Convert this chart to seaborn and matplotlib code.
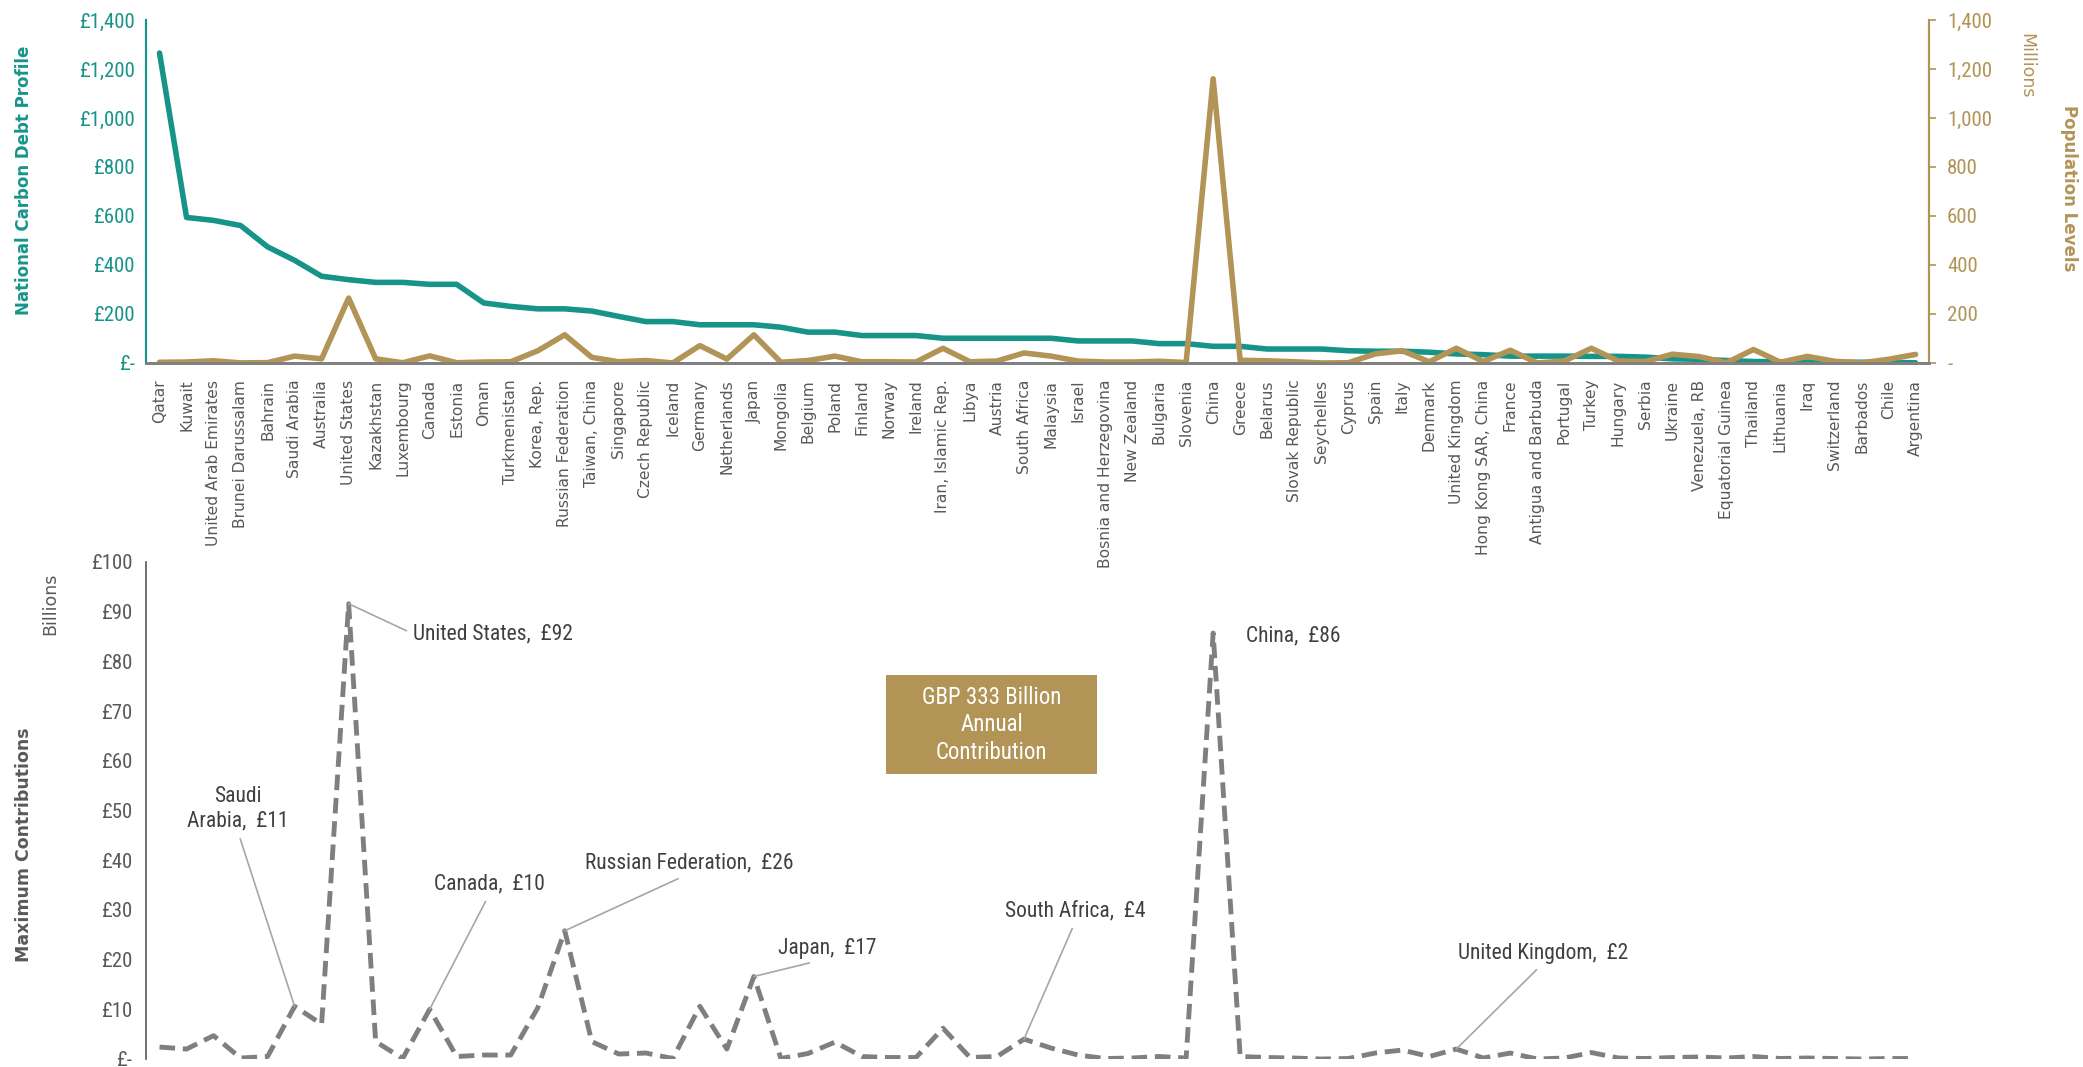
import pandas as pd
import matplotlib
matplotlib.use("Agg")
import matplotlib.pyplot as plt
from matplotlib import font_manager
from matplotlib.patches import Rectangle
import seaborn as sns

# dados
countries = [
    "Qatar", "Kuwait", "United Arab Emirates", "Brunei Darussalam", "Bahrain",
    "Saudi Arabia", "Australia", "United States", "Kazakhstan", "Luxembourg",
    "Canada", "Estonia", "Oman", "Turkmenistan", "Korea, Rep.",
    "Russian Federation", "Taiwan, China", "Singapore", "Czech Republic", "Iceland",
    "Germany", "Netherlands", "Japan", "Mongolia", "Belgium",
    "Poland", "Finland", "Norway", "Ireland", "Iran, Islamic Rep.",
    "Libya", "Austria", "South Africa", "Malaysia", "Israel",
    "Bosnia and Herzegovina", "New Zealand", "Bulgaria", "Slovenia", "China",
    "Greece", "Belarus", "Slovak Republic", "Seychelles", "Cyprus",
    "Spain", "Italy", "Denmark", "United Kingdom", "Hong Kong SAR, China",
    "France", "Antigua and Barbuda", "Portugal", "Turkey", "Hungary",
    "Serbia", "Ukraine", "Venezuela, RB", "Equatorial Guinea", "Thailand",
    "Lithuania", "Iraq", "Switzerland", "Barbados", "Chile", "Argentina",
]

carbon_debt = [
    1265, 594, 582, 561, 474, 419, 354, 340, 329, 329,
    321, 321, 245, 231, 221, 221, 212, 190, 169, 169,
    156, 156, 156, 146, 126, 126, 112, 112, 112, 101,
    101, 101, 101, 101, 90, 90, 90, 79, 79, 68,
    68, 57, 57, 57, 50, 48, 48, 44, 37, 34,
    28, 28, 28, 27, 27, 24, 17, 15, 10, 6,
    5, 4, 3, 3, 2, 1,
]

population = [
    3, 4, 9, 0.4, 1.4, 28, 17, 265, 17, 1,
    29, 1, 4, 5, 50, 115, 23, 5, 10, 0.3,
    71, 16, 115, 3, 10, 28, 5, 5, 4, 60,
    5, 8, 41, 28, 8, 4, 4, 7, 2, 1160,
    11, 9, 5, 0.1, 1, 37, 50, 5, 60, 6,
    52, 0.1, 8, 60, 8, 6, 36, 26, 1, 55,
    3, 27, 7, 0.3, 15, 35,
]

contribution = [
    2.4, 2, 4.7, 0.2, 0.5, 10.6, 7, 91.6, 3.5, 0.1,
    10, 0.5, 0.8, 0.8, 10.3, 25.8, 3.5, 1, 1.2, 0.1,
    10.6, 2, 16.6, 0.1, 1.1, 3.4, 0.5, 0.3, 0.3, 6.2,
    0.3, 0.5, 4, 2.2, 0.8, 0.1, 0.2, 0.5, 0.2, 85.7,
    0.5, 0.3, 0.2, 0, 0.1, 1.2, 1.8, 0.5, 2, 0.2,
    1.2, 0, 0.2, 1.3, 0.2, 0.1, 0.3, 0.4, 0.2, 0.5,
    0.1, 0.2, 0.1, 0, 0.1, 0.1,
]

# paises com rotulo no grafico de baixo: (x texto, y texto, ha, ponto de ligacao do texto)
callouts = {
    "Saudi Arabia": (2.9, 50.3, "center", (0.5, 0)),
    "United States": (9.4, 85.5, "left", (0, 0.5)),
    "Canada": (12.2, 35.2, "center", (0.5, 0)),
    "Russian Federation": (19.6, 39.4, "center", (0.5, 0)),
    "Japan": (24.7, 22.3, "center", (0.5, 0)),
    "South Africa": (33.9, 29.8, "center", (0.5, 0)),
    "China": (40.2, 85.1, "left", None),
    "United Kingdom": (51.2, 21.3, "center", (0.5, 0)),
}
total_text = "GBP 333 Billion\nAnnual\nContribution"

df = pd.DataFrame({
    "idx": range(len(countries)),
    "country": countries,
    "debt": carbon_debt,
    "pop": population,
    "contrib": contribution,
})

TEAL = "#17948a"
GOLD = "#b29457"
GREY = "#7f7f7f"
TXT = "#595959"

sns.set_style("white")
names = {f.name for f in font_manager.fontManager.ttflist}
narrow = "DejaVu Sans"
for cand in ["Liberation Sans Narrow", "Roboto Condensed", "Open Sans Condensed"]:
    if cand in names:
        narrow = cand
        break
plt.rcParams["font.family"] = ["DejaVu Sans"]

fig = plt.figure(figsize=(20.83, 10.67), dpi=100)

# --- grafico de baixo (primeiro, para os nomes de cima ficarem por cima)
axb = fig.add_axes([0.0701, 0.0075, 0.856, 0.4658])
axb.patch.set_visible(False)
sns.lineplot(data=df, x="idx", y="contrib", ax=axb, color=GREY, linewidth=3.5,
             linestyle=(0, (3.2, 1.6)), sort=False)
axb.set_xlim(-0.5, len(countries) - 0.5)
axb.set_ylim(0, 100)
axb.set_xticks([])
axb.set_yticks(range(0, 101, 10))
axb.set_yticklabels(["£-" if v == 0 else f"£{v}" for v in range(0, 101, 10)],
                    fontfamily=narrow, fontsize=15, color=TXT)
axb.tick_params(axis="y", length=0, pad=10)
axb.set_xlabel("")
axb.set_ylabel("")
for s in ["top", "right", "bottom"]:
    axb.spines[s].set_visible(False)
axb.spines["left"].set_color("#595959")
axb.spines["left"].set_linewidth(1.2)

fig.text(0.024, 1 - 604 / 1067, "Billions", rotation=90, ha="center", va="center",
         fontsize=12.5, color=TXT)
fig.text(0.0115, 1 - 845 / 1067, "Maximum Contributions", rotation=90,
         ha="center", va="center", fontsize=12.5, fontweight="bold", color=TXT)

for name, (tx, ty, ha, rel) in callouts.items():
    i = countries.index(name)
    val = contribution[i]
    label = name.replace("Saudi Arabia", "Saudi\nArabia") + f",  £{val:.0f}"
    if rel is None:
        axb.text(tx, ty, label, ha=ha, va="center", fontfamily=narrow,
                 fontsize=15.5, color="#404040")
        continue
    axb.annotate(label, xy=(i, val), xytext=(tx, ty), ha=ha, va="center",
                 fontfamily=narrow, fontsize=15.5, color="#404040",
                 arrowprops=dict(arrowstyle="-", color="#a6a6a6", lw=1.2,
                                 relpos=rel, shrinkA=3, shrinkB=0))

axb.add_patch(Rectangle((26.9, 57.3), 7.8, 20, facecolor=GOLD, edgecolor="none"))
axb.text(30.8, 67.3, total_text, ha="center", va="center", fontfamily=narrow,
         fontsize=16.5, color="white", linespacing=1.25)

# --- grafico de cima
ax = fig.add_axes([0.0701, 0.6598, 0.856, 0.3215])
ax2 = ax.twinx()

sns.lineplot(data=df, x="idx", y="debt", ax=ax, color=TEAL, linewidth=4, sort=False)
sns.lineplot(data=df, x="idx", y="pop", ax=ax2, color=GOLD, linewidth=4, sort=False)

for a in (ax, ax2):
    a.set_xlim(-0.5, len(countries) - 0.5)
    a.set_ylim(0, 1400)
    a.set_yticks(range(0, 1401, 200))
    a.set_xlabel("")
    a.set_ylabel("")

ax.set_yticklabels(["£-" if v == 0 else f"£{v:,}" for v in range(0, 1401, 200)],
                   fontfamily=narrow, fontsize=15, color=TEAL)
ax2.set_yticklabels(["-" if v == 0 else f"{v:,}" for v in range(0, 1401, 200)],
                    fontfamily=narrow, fontsize=15, color=GOLD)
ax.tick_params(axis="y", length=0, pad=8)
ax2.tick_params(axis="y", length=5, width=1.2, color=GOLD, pad=8)

ax.set_xticks(df["idx"])
ax.set_xticklabels(countries, rotation=90, fontsize=11.2, color=TXT)
ax.tick_params(axis="x", length=0, pad=12)

for a in (ax, ax2):
    a.spines["top"].set_visible(False)
    a.spines["left"].set_color(TEAL)
    a.spines["right"].set_color(GOLD)
    a.spines["bottom"].set_color("#808080")
    a.spines["left"].set_linewidth(1.5)
    a.spines["right"].set_linewidth(1.5)
    a.spines["bottom"].set_linewidth(2)

fig.text(0.0115, 1 - 180 / 1067, "National Carbon Debt Profile", rotation=90,
         ha="center", va="center", fontsize=12, fontweight="bold", color=TEAL)
fig.text(0.9935, 1 - 188 / 1067, "Population Levels", rotation=270,
         ha="center", va="center", fontsize=12, fontweight="bold", color=GOLD)
fig.text(0.9727, 1 - 66 / 1067, "Millions", rotation=270,
         ha="center", va="center", fontsize=12.5, color=GOLD)

fig.savefig("out.png", dpi=100)
